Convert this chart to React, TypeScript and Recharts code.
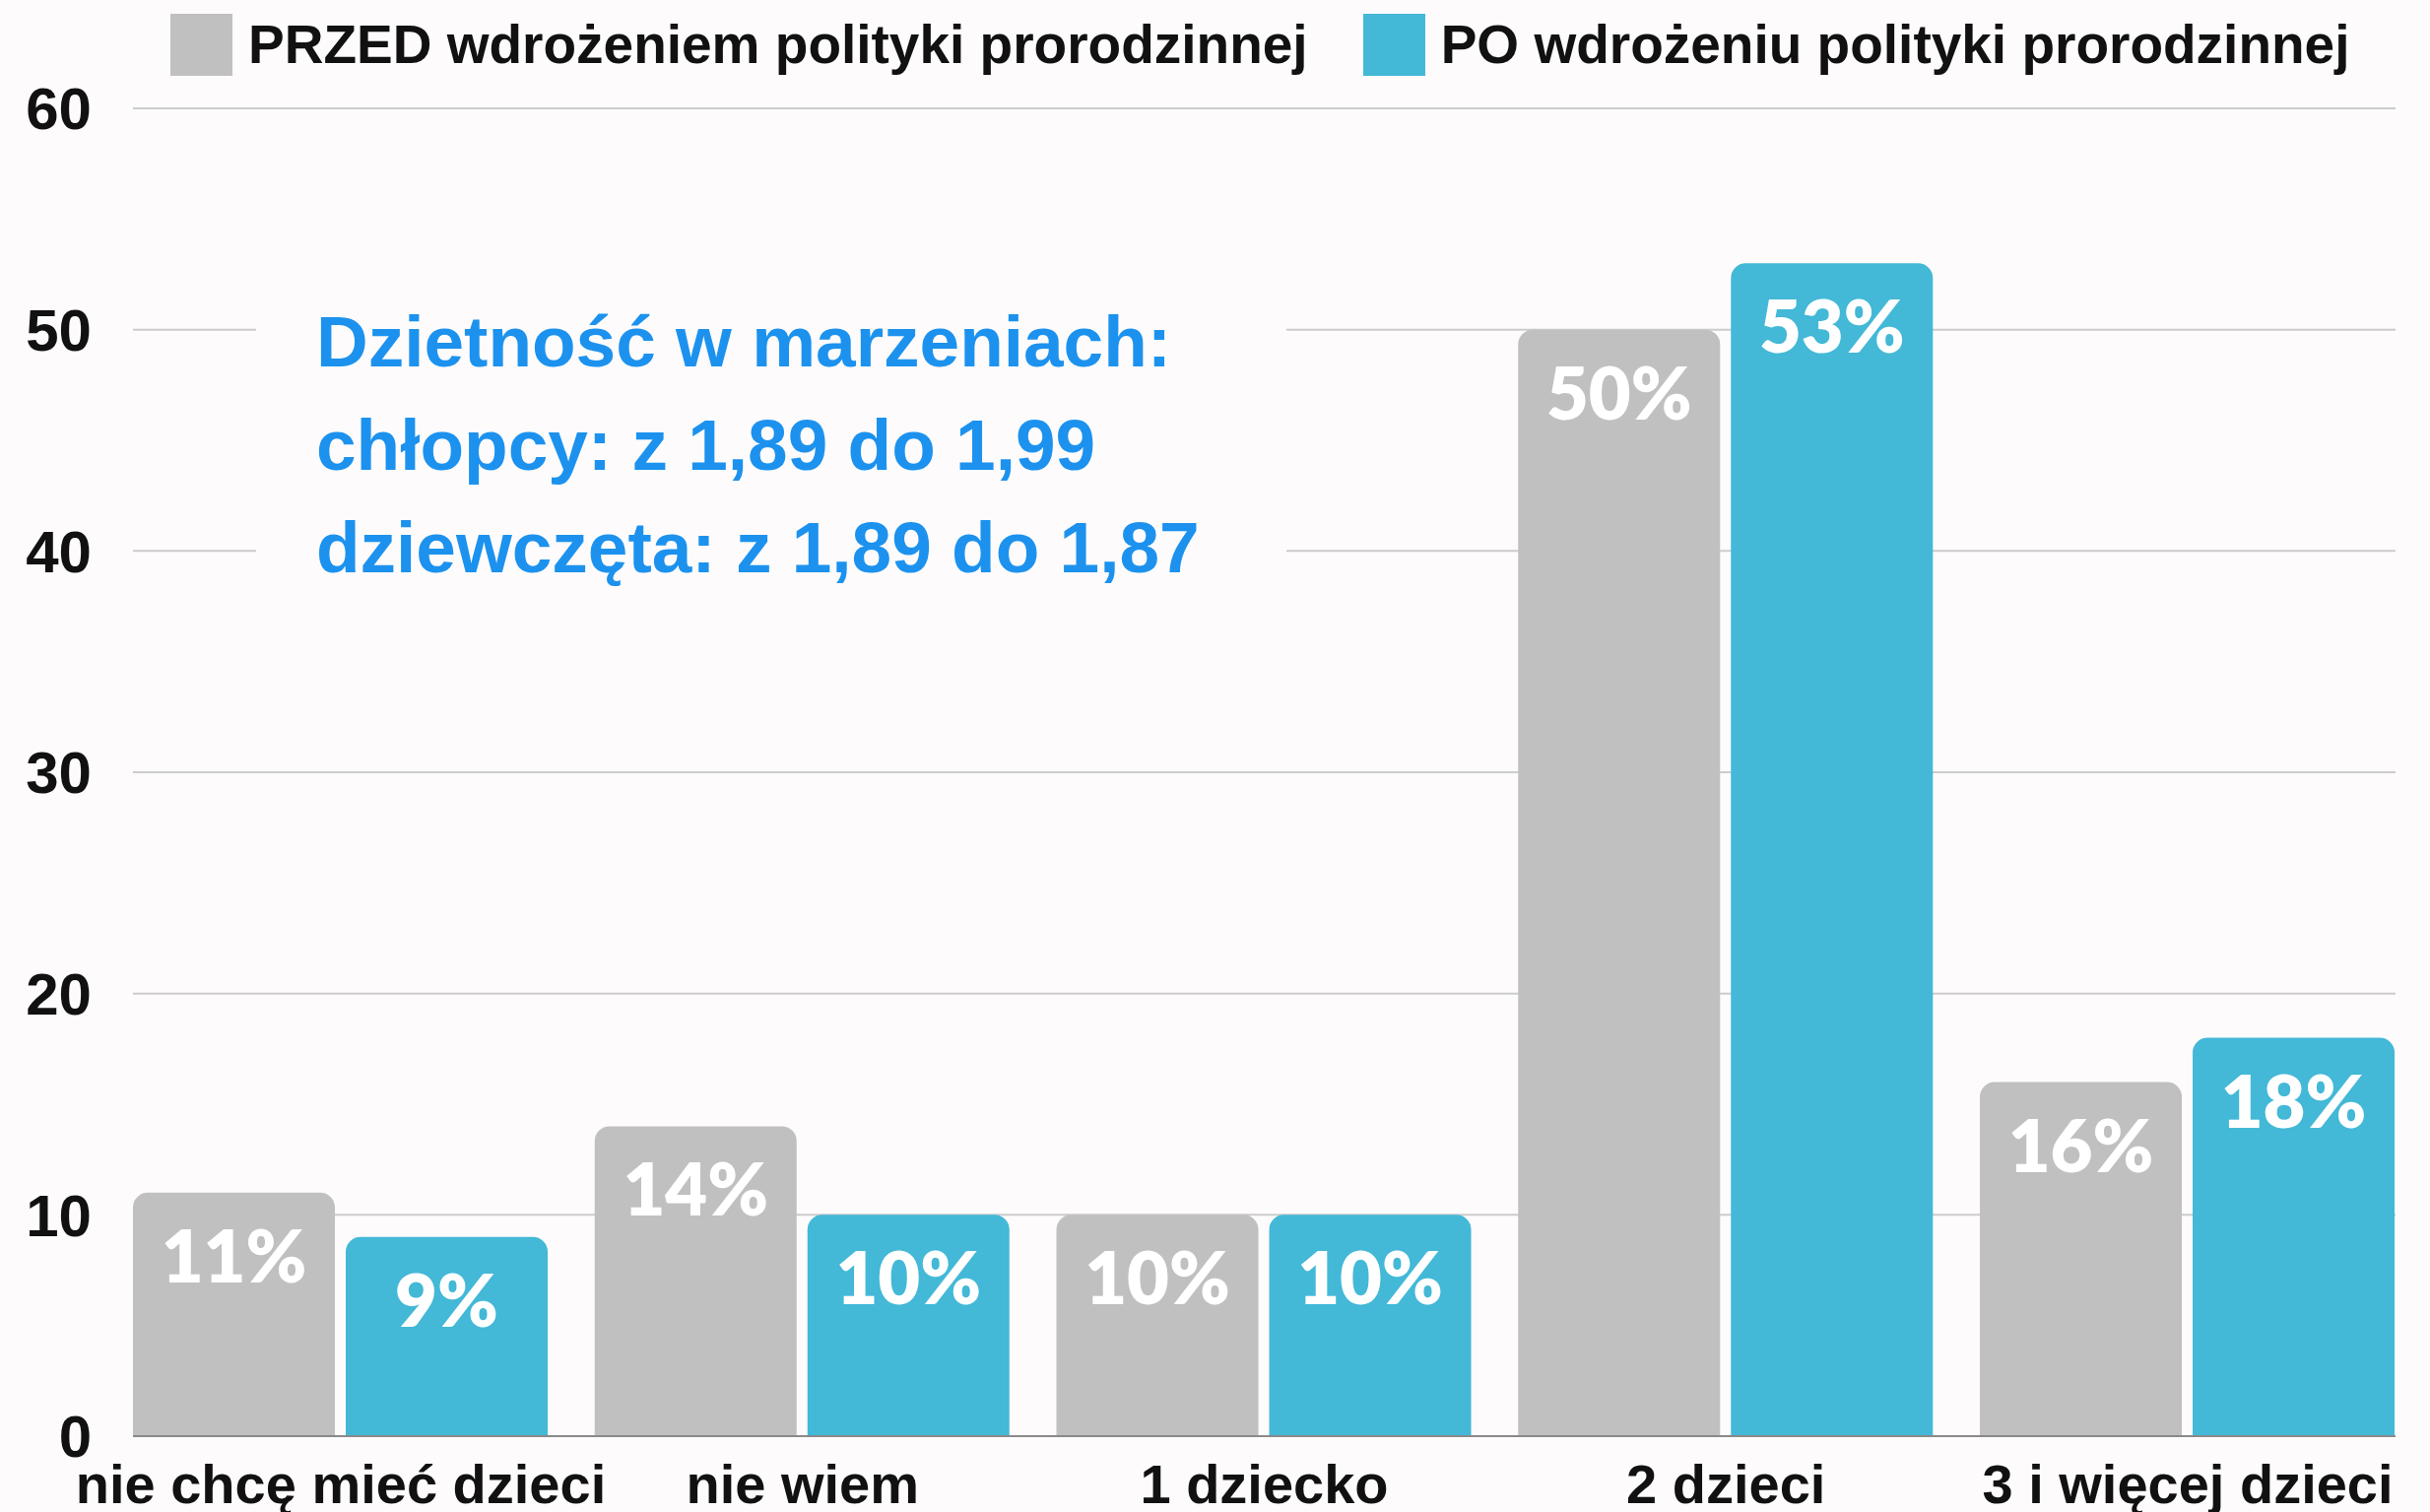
import React from 'react';
import { BarChart, Bar, XAxis, YAxis, CartesianGrid, Legend, LabelList } from 'recharts';

const categories = ['nie chcę mieć dzieci', 'nie wiem', '1 dziecko', '2 dzieci', '3 i więcej dzieci'];
const przed = [11, 14, 10, 50, 16];
const po = [9, 10, 10, 53, 18];
const seriesNames = ['PRZED wdrożeniem polityki prorodzinnej', 'PO wdrożeniu polityki prorodzinnej'];
const seriesColors = ['#C0C0C0', '#43B8D7'];
const yTicks = [0, 10, 20, 30, 40, 50, 60];
const noteLines = ['Dzietność w marzeniach:', 'chłopcy: z 1,89 do 1,99', 'dziewczęta: z 1,89 do 1,87'];

const data = categories.map((c, i) => ({ name: c, przed: przed[i], po: po[i] }));

const FONT = '"Liberation Sans", Arial, sans-serif';
const LABEL_FONT = 'Lato, "Open Sans", sans-serif';
const BG = '#FDFBFC';

const BarLabel = (props: any) => {
  const { x, y, width, value } = props;
  return (
    <text
      x={x + width / 2}
      y={y + 91}
      textAnchor="middle"
      fill="#FFFFFF"
      fontFamily={LABEL_FONT}
      fontWeight={800}
      fontSize={74}
    >
      {value}%
    </text>
  );
};

const LegendContent = () => (
  <div style={{ height: 110, display: 'flex', alignItems: 'flex-start', paddingLeft: 173, paddingTop: 13, boxSizing: 'border-box' }}>
    {seriesNames.map((n, i) => (
      <div key={n} style={{ display: 'flex', alignItems: 'center', marginRight: 56 }}>
        <div style={{ width: 63, height: 63, background: seriesColors[i], marginRight: 16 }} />
        <span style={{ fontFamily: FONT, fontWeight: 700, fontSize: 55, color: '#111', whiteSpace: 'nowrap' }}>{n}</span>
      </div>
    ))}
  </div>
);

export default function App() {
  return (
    <div style={{ position: 'fixed', left: 0, top: 0, width: 2467, height: 1535, background: BG }}>
      <BarChart
        width={2467}
        height={1535}
        data={data}
        margin={{ top: 0, right: 35, left: 0, bottom: 17 }}
        barCategoryGap={23.4}
        barGap={11}
      >
        <CartesianGrid vertical={false} stroke="#CCCCCC" strokeWidth={2} />
        <XAxis
          dataKey="name"
          padding={{ left: -23.4, right: -23.4 }}
          height={60}
          tickLine={false}
          axisLine={{ stroke: '#8A8A8A', strokeWidth: 2 }}
          tickMargin={22}
          tick={{ fontFamily: FONT, fontWeight: 700, fontSize: 56, fill: '#111' }}
          interval={0}
        />
        <YAxis
          domain={[0, 60]}
          ticks={yTicks}
          width={135}
          tickLine={false}
          axisLine={false}
          tickMargin={36}
          tick={{ fontFamily: FONT, fontWeight: 700, fontSize: 60, fill: '#111' }}
        />
        <Legend verticalAlign="top" content={<LegendContent />} wrapperStyle={{ top: 0, left: 0, width: 2467 }} />
        <Bar dataKey="przed" name={seriesNames[0]} fill={seriesColors[0]} radius={[15, 15, 0, 0]} isAnimationActive={false}>
          <LabelList dataKey="przed" content={<BarLabel />} />
        </Bar>
        <Bar dataKey="po" name={seriesNames[1]} fill={seriesColors[1]} radius={[15, 15, 0, 0]} isAnimationActive={false}>
          <LabelList dataKey="po" content={<BarLabel />} />
        </Bar>
      </BarChart>
      <div
        style={{
          position: 'absolute',
          left: 260,
          top: 250,
          width: 1046,
          height: 380,
          background: BG,
        }}
      >
        {noteLines.map((l, i) => (
          <div
            key={l}
            style={{
              position: 'absolute',
              left: 61,
              top: 60 + i * 104.5,
              fontFamily: FONT,
              fontWeight: 700,
              fontSize: 73,
              lineHeight: '73px',
              color: '#1C92EE',
              whiteSpace: 'nowrap',
            }}
          >
            {l}
          </div>
        ))}
      </div>
    </div>
  );
}
